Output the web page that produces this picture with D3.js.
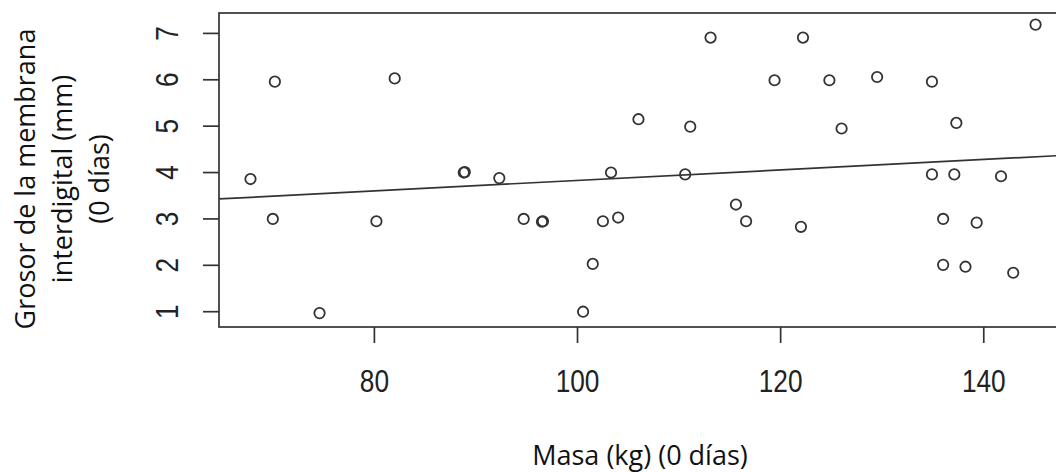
<!DOCTYPE html>
<html>
<head>
<meta charset="utf-8">
<script src="https://cdn.jsdelivr.net/npm/d3@7"></script>
<style>
  html, body { margin: 0; padding: 0; background: #fff; }
  svg { display: block; }
</style>
</head>
<body>
<div id="chart"></div>
<script>
// values
const masa = [67.8, 70.0, 70.2, 74.6, 80.2, 82.0, 88.8, 88.9, 92.3, 94.7,
  96.5, 96.6, 100.55, 101.5, 102.5, 103.3, 104.0, 106.0, 110.6, 111.1,
  113.1, 115.6, 116.6, 119.4, 122.0, 122.2, 124.8, 126.0, 129.5, 134.9,
  134.9, 136.0, 136.0, 137.1, 137.3, 138.2, 139.3, 141.7, 142.9, 145.1];
const grosor = [3.86, 3.0, 5.96, 0.97, 2.95, 6.03, 4.0, 4.01, 3.88, 3.0,
  2.94, 2.95, 1.0, 2.03, 2.95, 4.0, 3.03, 5.15, 3.96, 4.99,
  6.91, 3.31, 2.95, 5.99, 2.83, 6.91, 5.99, 4.95, 6.06, 5.96,
  3.96, 3.0, 2.01, 3.96, 5.07, 1.97, 2.92, 3.92, 1.84, 7.19];
const xTicks = [80, 100, 120, 140];
const yTicks = [1, 2, 3, 4, 5, 6, 7];
// abline(lm(...)) coefficients as seen in the picture
const fitCoef = [2.70, 0.0113];

const xTitle = 'Masa (kg) (0 días)';
const yTitle = ['Grosor de la membrana', 'interdigital (mm)', '(0 días)'];

const width = 1056;
const height = 472;
const box = { left: 219, top: 13, right: 1064, bottom: 327 };
const ink = '#333';

const svg = d3.select('#chart').append('svg')
  .attr('width', width)
  .attr('height', height);

const x = d3.scaleLinear().domain([64.7, 147.9]).range([box.left, box.right]);
const y = d3.scaleLinear().domain([0.67, 7.44]).range([box.bottom, box.top]);

// plot frame
svg.append('rect')
  .attr('x', box.left)
  .attr('y', box.top)
  .attr('width', box.right - box.left)
  .attr('height', box.bottom - box.top)
  .attr('fill', 'none')
  .attr('stroke', ink)
  .attr('stroke-width', 1.7);

// x axis ticks + labels (narrow sans, like R's default device font)
const xAxis = svg.append('g').attr('class', 'x-axis');
xAxis.selectAll('line')
  .data(xTicks)
  .join('line')
  .attr('x1', (d) => x(d))
  .attr('x2', (d) => x(d))
  .attr('y1', box.bottom)
  .attr('y2', box.bottom + 16)
  .attr('stroke', ink)
  .attr('stroke-width', 1.7);
xAxis.selectAll('text')
  .data(xTicks)
  .join('text')
  .attr('transform', (d) => `translate(${x(d)},392) scale(0.82,1)`)
  .attr('text-anchor', 'middle')
  .style('font-family', '"Liberation Sans", Arial, sans-serif')
  .style('font-size', '32px')
  .attr('fill', '#222')
  .text((d) => d);

// y axis ticks + labels, written along the axis
const yAxis = svg.append('g').attr('class', 'y-axis');
yAxis.selectAll('line')
  .data(yTicks)
  .join('line')
  .attr('x1', box.left - 16)
  .attr('x2', box.left)
  .attr('y1', (d) => y(d))
  .attr('y2', (d) => y(d))
  .attr('stroke', ink)
  .attr('stroke-width', 1.7);
yAxis.selectAll('text')
  .data(yTicks)
  .join('text')
  .attr('transform', (d) => `translate(178,${y(d)}) rotate(-90) scale(0.82,1)`)
  .attr('text-anchor', 'middle')
  .style('font-family', '"Liberation Sans", Arial, sans-serif')
  .style('font-size', '32px')
  .attr('fill', '#222')
  .text((d) => d);

// titles
svg.append('text')
  .attr('x', 640)
  .attr('y', 465)
  .attr('text-anchor', 'middle')
  .style('font-family', '"Open Sans", sans-serif')
  .style('font-size', '27px')
  .attr('fill', '#111')
  .text(xTitle);

svg.append('g')
  .selectAll('text')
  .data(yTitle)
  .join('text')
  .attr('transform', (d, i) => `translate(${35 + i * 37},179) rotate(-90)`)
  .attr('text-anchor', 'middle')
  .style('font-family', '"Open Sans", sans-serif')
  .style('font-size', '27px')
  .attr('fill', '#111')
  .text((d) => d);

// clip marks to the plot region
svg.append('clipPath')
  .attr('id', 'plot-clip')
  .append('rect')
  .attr('x', box.left)
  .attr('y', box.top)
  .attr('width', box.right - box.left)
  .attr('height', box.bottom - box.top);

const plot = svg.append('g').attr('clip-path', 'url(#plot-clip)');

// regression line across the full x range
const xr = x.domain();
plot.append('line')
  .attr('x1', x(xr[0]))
  .attr('y1', y(fitCoef[0] + fitCoef[1] * xr[0]))
  .attr('x2', x(xr[1]))
  .attr('y2', y(fitCoef[0] + fitCoef[1] * xr[1]))
  .attr('stroke', ink)
  .attr('stroke-width', 1.7);

// open circles (pch = 1)
plot.selectAll('circle')
  .data(d3.zip(masa, grosor))
  .join('circle')
  .attr('cx', (d) => x(d[0]))
  .attr('cy', (d) => y(d[1]))
  .attr('r', 5.2)
  .attr('fill', 'none')
  .attr('stroke', ink)
  .attr('stroke-width', 1.8);
</script>
</body>
</html>
